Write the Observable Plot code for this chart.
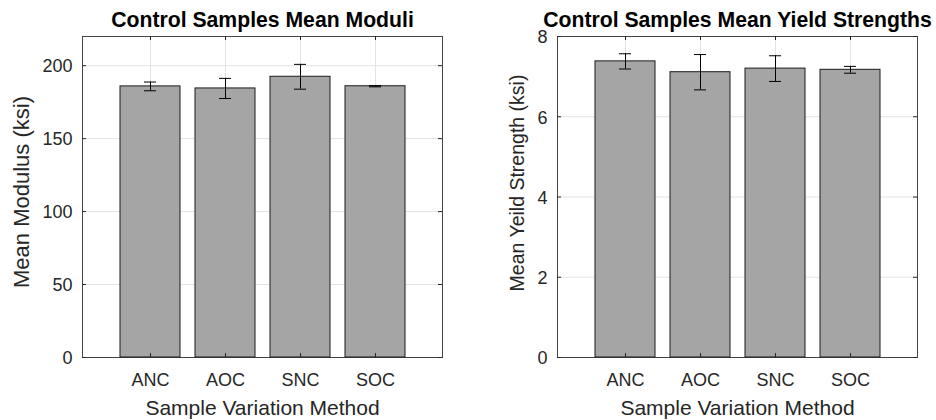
<!DOCTYPE html>
<html>
<head>
<meta charset="utf-8">
<script src="https://cdn.jsdelivr.net/npm/d3@7"></script>
<script src="https://cdn.jsdelivr.net/npm/@observablehq/plot@0.6"></script>
<style>
  html, body { margin: 0; padding: 0; background: #fff; }
  #wrap { display: flex; width: 936px; height: 420px; }
  svg { display: block; }
</style>
</head>
<body>
<div id="wrap"></div>
<script>
// ---- data ----
const categories = ["ANC", "AOC", "SNC", "SOC"];
const modulusMean = [185.8, 184.4, 192.4, 185.9];
const modulusErr = [3.0, 6.9, 8.5, 0.4];
const yieldMean = [7.38, 7.11, 7.20, 7.17];
const yieldErr = [0.19, 0.44, 0.32, 0.085];
const modulusTicks = [0, 50, 100, 150, 200];
const yieldTicks = [0, 2, 4, 6, 8];
const modulusTitle = "Control Samples Mean Moduli";
const yieldTitle = "Control Samples Mean Yield Strengths";
const modulusLabel = "Mean Modulus (ksi)";
const yieldLabel = "Mean Yeild Strength (ksi)";
const xLabel = "Sample Variation Method";

const FONT = "'Liberation Sans', Arial, Helvetica, sans-serif";
const AXIS = "#262626";
const GRID = "#e3e3e3";

function panel({means, errs, ticks, yMax, title, ylabel, marginLeft, marginRight, labelX, labelDy, labelSize}) {
  const data = categories.map((c, i) => ({cat: c, mean: means[i], lo: means[i] - errs[i], hi: means[i] + errs[i]}));
  const W = 468, H = 420, mt = 36, mb = 63;
  const pw = W - marginLeft - marginRight, ph = H - mt - mb;
  return Plot.plot({
    width: W, height: H,
    marginLeft, marginRight, marginTop: mt, marginBottom: mb,
    style: {fontFamily: FONT, color: AXIS, background: "#fff", overflow: "visible"},
    x: {type: "band", domain: categories, paddingInner: 0.2, paddingOuter: 0.5, axis: null},
    y: {domain: [0, yMax], axis: null},
    marks: [
      Plot.gridY(ticks, {stroke: GRID, strokeOpacity: 1}),
      Plot.gridX(categories, {stroke: GRID, strokeOpacity: 1}),
      Plot.barY(data, {x: "cat", y: "mean", fill: "#a5a5a5", stroke: "#1a1a1a", strokeWidth: 1}),
      Plot.ruleX(data, {x: "cat", y1: "lo", y2: "hi", stroke: "#000", strokeWidth: 1}),
      Plot.tickY(data, {x: "cat", y: "lo", stroke: "#000", insetLeft: 24, insetRight: 24}),
      Plot.tickY(data, {x: "cat", y: "hi", stroke: "#000", insetLeft: 24, insetRight: 24}),
      // inward tick marks
      Plot.tickY(ticks, {y: d => d, stroke: AXIS, insetRight: pw - 4}),
      Plot.tickY(ticks, {y: d => d, stroke: AXIS, insetLeft: pw - 4}),
      Plot.tickX(categories, {x: d => d, stroke: AXIS, insetTop: ph - 4}),
      Plot.tickX(categories, {x: d => d, stroke: AXIS, insetBottom: ph - 4}),
      Plot.frame({stroke: AXIS, strokeOpacity: 0.85}),
      Plot.axisY(ticks, {tickSize: 0, tickPadding: 10, fontSize: 18, label: null, fill: AXIS, dy: 1}),
      Plot.axisX(categories, {tickSize: 0, tickPadding: 16, fontSize: 18, label: null, fill: AXIS}),
      Plot.text([ylabel], {frameAnchor: "left", text: d => d, rotate: -90, dx: -(marginLeft - labelX), dy: labelDy, textAnchor: "middle", lineAnchor: "bottom", fontSize: labelSize, fill: AXIS}),
      Plot.text([xLabel], {frameAnchor: "bottom", text: d => d, dy: 57, lineAnchor: "bottom", fontSize: 21, fill: AXIS}),
      Plot.text([title], {frameAnchor: "top", text: d => d, dy: -10, lineAnchor: "bottom", fontSize: 21.2, fontWeight: "bold", fill: "#000"})
    ]
  });
}

const wrap = document.getElementById("wrap");
wrap.appendChild(panel({means: modulusMean, errs: modulusErr, ticks: modulusTicks, yMax: 220, title: modulusTitle, ylabel: modulusLabel, marginLeft: 82, marginRight: 26, labelX: 28, labelDy: -5, labelSize: 22}));
wrap.appendChild(panel({means: yieldMean, errs: yieldErr, ticks: yieldTicks, yMax: 8, title: yieldTitle, ylabel: yieldLabel, marginLeft: 89, marginRight: 19, labelX: 55, labelDy: -14, labelSize: 19.5}));
</script>
</body>
</html>
